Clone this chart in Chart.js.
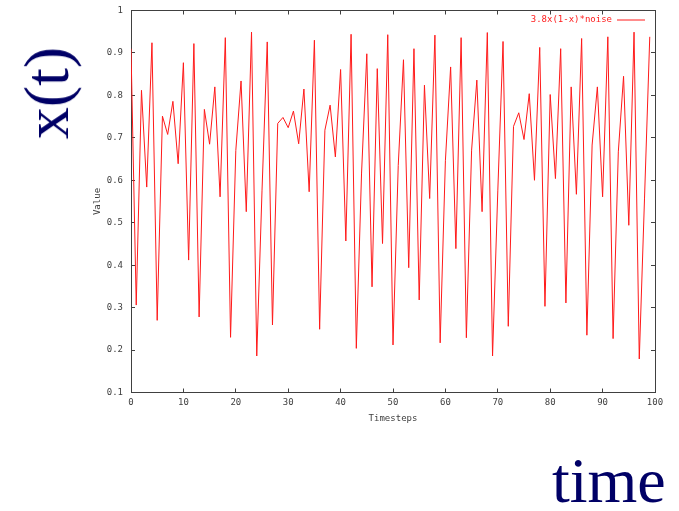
<!DOCTYPE html>
<html lang="en">
<head>
    <meta charset="UTF-8">
    <title>x(t) vs time</title>
    <script src="https://cdn.jsdelivr.net/npm/chart.js"></script>
    <style>
        html, body { margin: 0; padding: 0; background: #fff; }
        #wrap { position: relative; width: 679px; height: 511px; overflow: hidden; }
        #chart { position: absolute; left: 0; top: 0; }
        .big { position: absolute; font-family: 'Liberation Serif', 'DejaVu Serif', serif; font-size: 64px; line-height: 1; color: #000066; white-space: nowrap; }
        #ylab { left: 47px; top: 93px; transform: translate(-50%, -50%) rotate(-90deg); }
        #xlab { left: 552px; top: 449px; }
    </style>
</head>
<body>
    <div id="wrap">
        <canvas id="chart" width="679" height="511"></canvas>
        <div id="ylab" class="big">x(t)</div>
        <div id="xlab" class="big">time</div>
    </div>

    <script>
        // series, one value per timestep (0..99)
        const values = [
            0.910, 0.306, 0.812, 0.584, 0.924, 0.270, 0.751, 0.708, 0.786, 0.639,
            0.877, 0.412, 0.922, 0.278, 0.767, 0.685, 0.820, 0.561, 0.936, 0.230,
            0.670, 0.834, 0.526, 0.949, 0.186, 0.575, 0.926, 0.259, 0.734, 0.748,
            0.724, 0.763, 0.686, 0.815, 0.573, 0.930, 0.249, 0.718, 0.777, 0.655,
            0.861, 0.457, 0.944, 0.204, 0.617, 0.898, 0.349, 0.863, 0.451, 0.943,
            0.212, 0.635, 0.884, 0.394, 0.910, 0.318, 0.824, 0.557, 0.942, 0.217,
            0.646, 0.867, 0.439, 0.936, 0.229, 0.671, 0.836, 0.526, 0.948, 0.186,
            0.575, 0.927, 0.256, 0.727, 0.759, 0.696, 0.804, 0.600, 0.913, 0.303,
            0.802, 0.604, 0.910, 0.311, 0.820, 0.567, 0.934, 0.235, 0.683, 0.820,
            0.561, 0.938, 0.227, 0.667, 0.845, 0.494, 0.949, 0.179, 0.558, 0.938
        ];
        const seriesLabel = '3.8x(1-x)*noise';
        const xRange = [0, 100];
        const yRange = [0.1, 1];

        const points = values.map((v, i) => ({ x: i, y: v }));

        const tickFont = { family: 'DejaVu Sans Mono', size: 9 };
        const axisColor = '#404040';
        const labelColor = '#404040';

        // gnuplot style inward ticks, no grid across the plot
        const inwardGrid = { drawOnChartArea: false, drawTicks: true, tickLength: -4, color: axisColor };
        const border = { display: true, color: axisColor, width: 1 };

        // keep the plot box where it is, labels may overhang
        const fixWidth = w => s => { s.width = w; s.paddingTop = 0; s.paddingBottom = 0; };
        const fixHeight = h => s => { s.height = h; s.paddingLeft = 0; s.paddingRight = 0; };

        // legend drawn inside the plot, text then line sample
        const insideLegend = {
            id: 'insideLegend',
            afterDraw(chart) {
                const { ctx, chartArea } = chart;
                const ds = chart.data.datasets[0];
                const y = chartArea.top + 9;
                ctx.save();
                ctx.font = '9px "DejaVu Sans Mono"';
                ctx.fillStyle = ds.borderColor;
                ctx.textAlign = 'right';
                ctx.textBaseline = 'middle';
                ctx.fillText(ds.label, chartArea.right - 43, y);
                ctx.strokeStyle = ds.borderColor;
                ctx.lineWidth = 1;
                ctx.beginPath();
                ctx.moveTo(chartArea.right - 38, y + 0.5);
                ctx.lineTo(chartArea.right - 10, y + 0.5);
                ctx.stroke();
                ctx.restore();
            }
        };

        new Chart(document.getElementById('chart'), {
            type: 'line',
            data: {
                datasets: [{
                    label: seriesLabel,
                    data: points,
                    borderColor: '#ff1a1a',
                    borderWidth: 1,
                    pointRadius: 0,
                    tension: 0,
                    fill: false
                }]
            },
            options: {
                responsive: false,
                animation: false,
                events: [],
                layout: { padding: { left: 88, right: 24, top: 10.5, bottom: 86.5 } },
                plugins: { legend: { display: false }, tooltip: { enabled: false } },
                scales: {
                    x: {
                        type: 'linear', position: 'bottom',
                        min: xRange[0], max: xRange[1],
                        ticks: { stepSize: 10, font: tickFont, color: labelColor, padding: 9, maxRotation: 0 },
                        grid: inwardGrid, border: border,
                        title: { display: true, text: 'Timesteps', font: tickFont, color: labelColor, padding: { top: 0, bottom: 0 } },
                        afterFit: fixHeight(32)
                    },
                    x2: {
                        type: 'linear', position: 'top',
                        min: xRange[0], max: xRange[1],
                        ticks: { stepSize: 10, display: false },
                        grid: inwardGrid, border: border,
                        afterFit: fixHeight(0)
                    },
                    y: {
                        type: 'linear', position: 'left',
                        min: yRange[0], max: yRange[1],
                        ticks: {
                            stepSize: 0.1, font: tickFont, color: labelColor, padding: 12,
                            callback: v => String(Math.round(v * 10) / 10)
                        },
                        grid: inwardGrid, border: border,
                        title: { display: true, text: 'Value', font: tickFont, color: labelColor, padding: { top: 4, bottom: 0 } },
                        afterFit: fixWidth(43)
                    },
                    y2: {
                        type: 'linear', position: 'right',
                        min: yRange[0], max: yRange[1],
                        ticks: { stepSize: 0.1, display: false },
                        grid: inwardGrid, border: border,
                        afterFit: fixWidth(0)
                    }
                }
            },
            plugins: [insideLegend]
        });
    </script>
</body>
</html>
